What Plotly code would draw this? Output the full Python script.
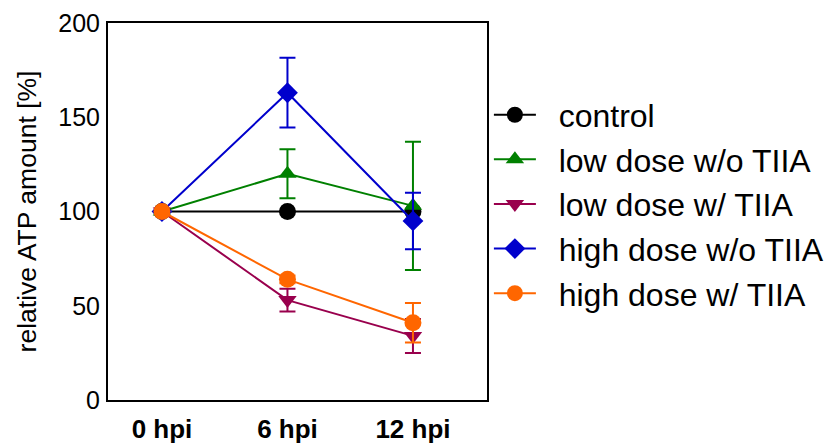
import plotly.graph_objects as go

time_labels = ["0 hpi", "6 hpi", "12 hpi"]
x_idx = [0, 1, 2]

series_names = ["control", "low dose w/o TIIA", "low dose w/ TIIA",
                "high dose w/o TIIA", "high dose w/ TIIA"]
control = [100, 100, 100]
control_err = [0, 0, 0]
low_wo = [100, 120, 103]
low_wo_err = [0, 13, 34]
low_w = [100, 53, 34]
low_w_err = [0, 6, 9]
high_wo = [100, 163, 95]
high_wo_err = [0, 18.5, 15]
high_w = [100, 64, 41]
high_w_err = [0, 2, 10.5]

values = [control, low_wo, low_w, high_wo, high_w]
errors = [control_err, low_wo_err, low_w_err, high_wo_err, high_w_err]
colors = ["#000000", "#008000", "#99004D", "#0000CC", "#FF6600"]
symbols = ["circle", "triangle-up", "triangle-down", "diamond", "circle"]
sizes = [17, 16, 16, 16, 17]

NB = "\u00a0\u00a0"

fig = go.Figure()
for name, v, e, c, s, sz in zip(series_names, values, errors, colors, symbols, sizes):
    fig.add_trace(go.Scatter(
        x=x_idx, y=v, name=NB + name, mode="lines+markers",
        line=dict(color=c, width=2),
        marker=dict(symbol=s, size=sz, color=c, line=dict(width=0)),
        error_y=dict(type="data", array=e, visible=True, color=c,
                     thickness=2, width=8),
    ))

fig.update_layout(
    width=827, height=443,
    margin=dict(l=108, r=340, t=23, b=43, autoexpand=False),
    paper_bgcolor="white", plot_bgcolor="white",
    font=dict(family="Liberation Sans, Arial, sans-serif", color="black"),
    showlegend=True,
    legend=dict(x=1.005, xanchor="left", y=0.52, yanchor="middle",
                font=dict(size=32, color="black"),
                itemwidth=42, tracegroupgap=0, bgcolor="rgba(0,0,0,0)"),
)
fig.update_xaxes(
    range=[-0.43, 2.59], tickvals=x_idx,
    ticktext=["<b>%s</b>" % t for t in time_labels],
    showline=True, linecolor="black", linewidth=2, mirror=True,
    showgrid=False, zeroline=False, automargin=False,
    ticks="outside", ticklen=5, tickcolor="rgba(0,0,0,0)",
    tickfont=dict(size=26, family="Liberation Sans, Arial, sans-serif", color="black"),
)
fig.update_yaxes(
    range=[0, 200], tickvals=[0, 50, 100, 150, 200],
    showline=True, linecolor="black", linewidth=2, mirror=True,
    showgrid=False, zeroline=False, automargin=False,
    ticks="outside", ticklen=1, tickcolor="rgba(0,0,0,0)",
    tickfont=dict(size=25, color="black"),
    title=dict(text="relative ATP amount [%]", font=dict(size=26.5, color="black"), standoff=14),
)

fig.write_html("out.html", config={"displayModeBar": False},
               post_script="document.body.style.margin='0px';document.body.style.padding='0px';")
